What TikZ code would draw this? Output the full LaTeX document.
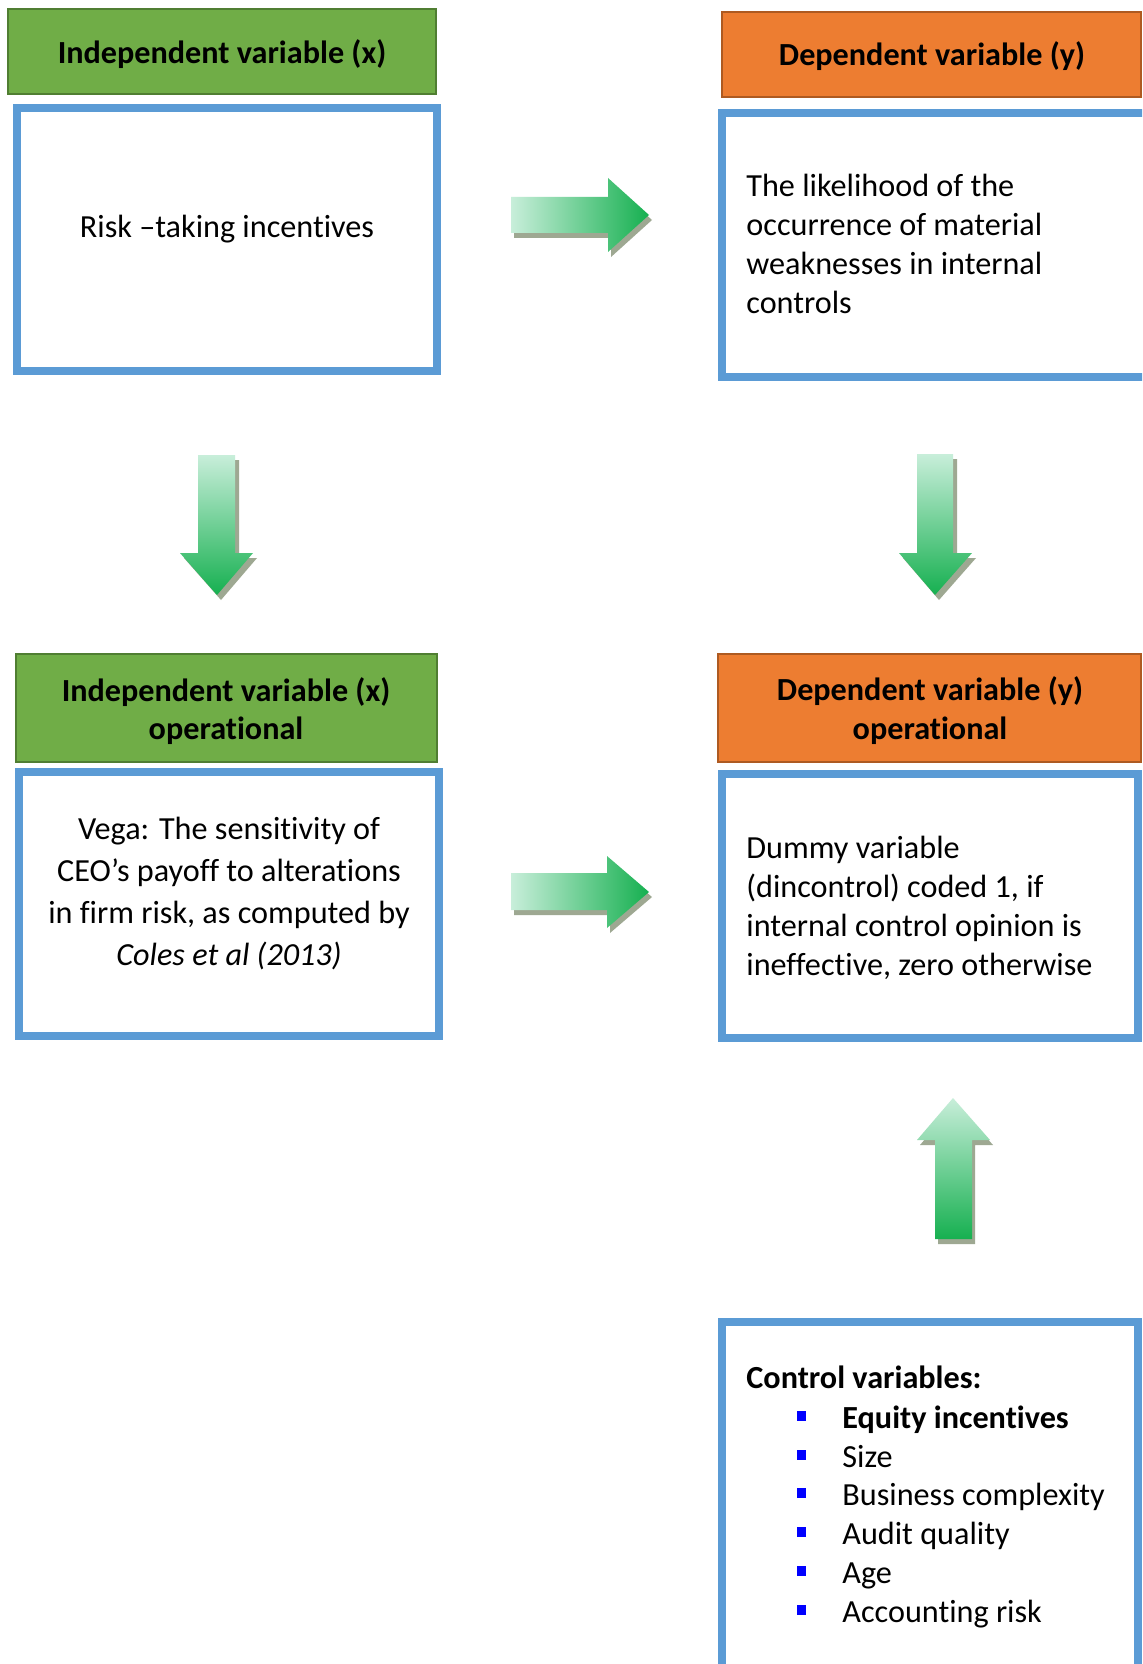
\documentclass[tikz,border=0pt]{standalone}
\usepackage{fontspec}
\setmainfont{Carlito}[Ligatures=NoCommon]
\definecolor{hgreen}{HTML}{70AD47}
\definecolor{hgreenb}{HTML}{507E32}
\definecolor{horange}{HTML}{ED7D31}
\definecolor{horangeb}{HTML}{AE5A21}
\definecolor{bblue}{HTML}{5B9BD5}
\definecolor{alight}{RGB}{200,238,218}
\definecolor{adark}{RGB}{22,176,80}
\definecolor{ashadow}{RGB}{158,168,146}
\definecolor{bullblue}{RGB}{0,0,255}
\newcommand\fsA{\fontsize{16.1}{19.4}\selectfont}
\begin{document}
\begin{tikzpicture}[x=0.5pt,y=-0.5pt,
  greenhead/.style={draw=hgreenb, fill=hgreen, line width=1pt, inner sep=0pt},
  orangehead/.style={draw=horangeb, fill=horange, line width=1pt, inner sep=0pt},
  bluebox/.style={draw=bblue, fill=white, line width=3.75pt, inner sep=0pt},
  txt/.style={inner sep=0pt, font=\fsA, text=black},
  btxt/.style={inner sep=0pt, font=\fsA\bfseries, text=black},
  bulletsq/.style={fill=bullblue, inner sep=0pt, minimum size=4.6pt},
  ashade/.style={fill=ashadow}
]
\useasboundingbox (0,0) rectangle (1142,1664);
\clip (0,0) rectangle (1142,1664);
\fill[white] (0,0) rectangle (1142,1664);

% headers
\node[greenhead, minimum width=214pt, minimum height=42.5pt] (g1) at (222,51.5) {};
\node[btxt, anchor=base] (g1t) at (222,64) {Independent variable (x)};
\node[orangehead, minimum width=209.5pt, minimum height=42.5pt] (o1) at (931.5,54.5) {};
\node[btxt, anchor=base] (o1t) at (932,66) {Dependent variable (y)};
\node[greenhead, minimum width=210.5pt, minimum height=54pt] (g2) at (226.5,708) {};
\node[btxt, anchor=base] (g2t) at (226,701) {\fontsize{16.1}{19}\selectfont\begin{tabular}[t]{@{}c@{}}Independent variable (x)\\operational\end{tabular}};
\node[orangehead, minimum width=211.5pt, minimum height=54pt] (o2) at (929.5,708) {};
\node[btxt, anchor=base] (o2t) at (930,700) {\fontsize{16.1}{19.5}\selectfont\begin{tabular}[t]{@{}c@{}}Dependent variable (y)\\operational\end{tabular}};

% blue boxes
\node[bluebox, minimum width=210pt, minimum height=131.5pt] (b1) at (227,239.5) {};
\node[txt, anchor=base] (b1t) at (227,238) {Risk –taking incentives};
\node[bluebox, minimum width=219pt, minimum height=132pt] (b2) at (941,245) {};
\node[txt, anchor=base west] (b2t) at (746,197) {\fontsize{16.1}{19.35}\selectfont\begin{tabular}[t]{@{}l@{}}The likelihood of the\\occurrence of material\\weaknesses in internal\\controls\end{tabular}};
\node[bluebox, minimum width=210pt, minimum height=132pt] (b3) at (229,904) {};
\node[txt, anchor=base] (b3t) at (229,839) {\fontsize{16.1}{21}\selectfont\begin{tabular}[t]{@{}c@{}}Vega: The sensitivity of\\CEO’s payoff to alterations\\in firm risk, as computed by\\\textit{Coles et al (2013)}\end{tabular}};
\node[bluebox, minimum width=208pt, minimum height=132pt] (b4) at (930,906) {};
\node[txt, anchor=base west] (b4t) at (746,858) {\fontsize{16.1}{19.5}\selectfont\begin{tabular}[t]{@{}l@{}}Dummy variable\\(dincontrol) coded 1, if\\internal control opinion is\\ineffective, zero otherwise\end{tabular}};
\node[bluebox, minimum width=208pt, minimum height=189pt] (b5) at (930,1511) {};
\node[btxt, anchor=base west] (b5t) at (746,1388) {Control variables:};
\node[btxt, anchor=base west] (c1) at (842,1428) {Equity incentives};
\node[txt, anchor=base west] (c2) at (842,1467) {Size};
\node[txt, anchor=base west] (c3) at (842,1505) {Business complexity};
\node[txt, anchor=base west] (c4) at (842,1544) {Audit quality};
\node[txt, anchor=base west] (c5) at (842,1583) {Age};
\node[txt, anchor=base west] (c6) at (842,1622) {Accounting risk};
\foreach \yy/\nm in {1428/1,1467/2,1505/3,1544/4,1583/5,1622/6}{
  \node[bulletsq] (bu\nm) at (801.5,\yy-12) {};
}

% block arrows: right 1
\fill[ashade, shift={(3,5)}] (511,197) -- (608,197) -- (608,178) -- (649,215) -- (608,252) -- (608,233) -- (511,233) -- cycle;
\shade[left color=alight, right color=adark] (511,197) -- (608,197) -- (608,178) -- (649,215) -- (608,252) -- (608,233) -- (511,233) -- cycle;
% right 2
\fill[ashade, shift={(3,5)}] (511,873) -- (607,873) -- (607,856) -- (649,892) -- (607,928) -- (607,910) -- (511,910) -- cycle;
\shade[left color=alight, right color=adark] (511,873) -- (607,873) -- (607,856) -- (649,892) -- (607,928) -- (607,910) -- (511,910) -- cycle;
% down 1
\fill[ashade, shift={(4,5)}] (198,455) -- (235,455) -- (235,553) -- (253,553) -- (217,595) -- (180,553) -- (198,553) -- cycle;
\shade[top color=alight, bottom color=adark] (198,455) -- (235,455) -- (235,553) -- (253,553) -- (217,595) -- (180,553) -- (198,553) -- cycle;
% down 2
\fill[ashade, shift={(4,5)}] (917,454) -- (953,454) -- (953,553) -- (972,553) -- (935,595) -- (899,553) -- (917,553) -- cycle;
\shade[top color=alight, bottom color=adark] (917,454) -- (953,454) -- (953,553) -- (972,553) -- (935,595) -- (899,553) -- (917,553) -- cycle;
% up
\fill[ashade, shift={(3,5)}] (935,1239) -- (972,1239) -- (972,1140) -- (990,1140) -- (953,1098) -- (917,1140) -- (935,1140) -- cycle;
\shade[top color=alight, bottom color=adark] (935,1239) -- (972,1239) -- (972,1140) -- (990,1140) -- (953,1098) -- (917,1140) -- (935,1140) -- cycle;
\end{tikzpicture}
\end{document}
